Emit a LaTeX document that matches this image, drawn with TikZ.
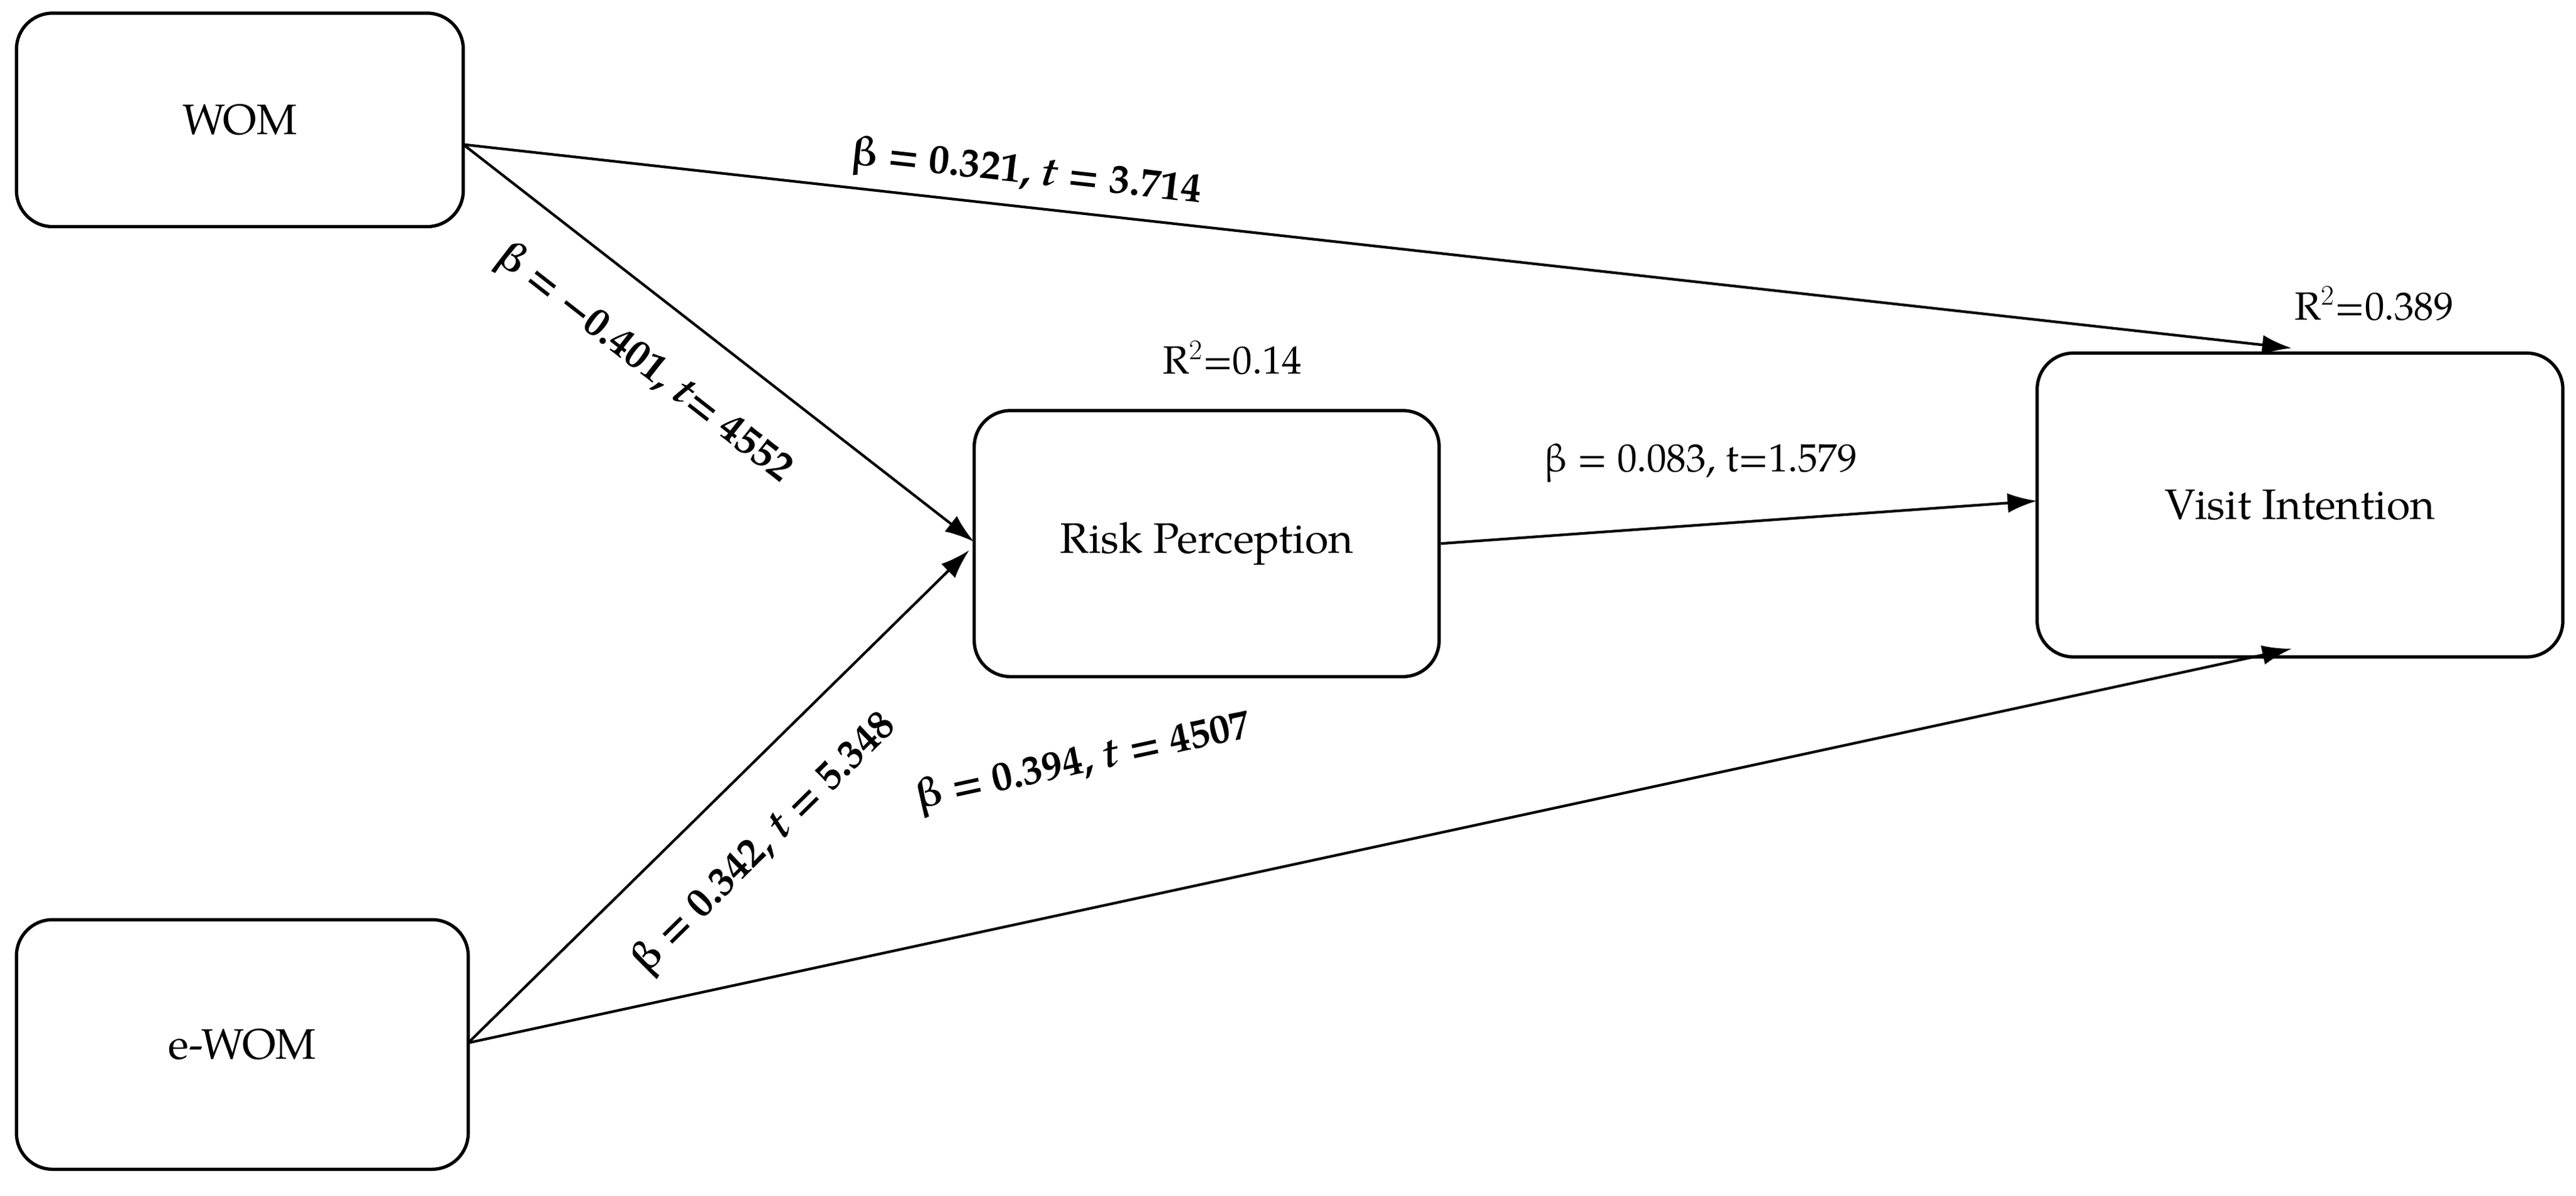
\documentclass[tikz,border=0pt]{standalone}
\usepackage{fontspec}
\setmainfont{TeX Gyre Pagella}
\usetikzlibrary{arrows.meta}
\begin{document}
\begin{tikzpicture}[x=1pt,y=-1pt,
 box/.style={draw,line width=2pt,rounded corners=22pt,font=\fontsize{26}{30}\selectfont},
 arr/.style={line width=1.6pt,-{Latex[length=18pt,width=12pt]}},
 lab/.style={font=\bfseries\fontsize{25}{28}\selectfont}]
\useasboundingbox (0,0) rectangle (1568,728);
\node[box,minimum width=272pt,minimum height=130pt] (wom) at (146,73) {WOM};
\node[box,minimum width=275pt,minimum height=152pt] (ewom) at (147.5,636) {e-WOM};
\node[box,minimum width=283pt,minimum height=162pt] (rp) at (734.5,331) {Risk Perception};
\node[box,minimum width=320pt,minimum height=185pt] (vi) at (1400,307.5) {Visit Intention};
\coordinate (w) at (282,88);
\coordinate (e) at (285,635);
\draw[arr] (w) -- (1395,212) coordinate (vi1);
\draw[arr] (w) -- (593,330) coordinate (rp1);
\draw[arr] (e) -- (590,335) coordinate (rp2);
\draw[arr] (e) -- (1395,395) coordinate (vi2);
\draw[arr] (rp.east) -- (1240,305) coordinate (vi3);
\node[lab,rotate=-6.4] (l1) at (625,106) {β = 0.321, \textit{t} = 3.714};
\node[lab,rotate=-38] (l2) at (392,222) {β = −0.401, \textit{t}= 4552};
\node[lab,rotate=44.5] (l3) at (466,514) {β = 0.342, \textit{t} = 5.348};
\node[lab,rotate=12.2] (l4) at (660,465) {β = 0.394, \textit{t} = 4507};
\node[font=\fontsize{24}{28}\selectfont] (l5) at (1035,282) {β = 0.083, t=1.579};
\node[font=\fontsize{24}{28}\selectfont] (r1) at (750,218) {R$^2$=0.14};
\node[font=\fontsize{24}{28}\selectfont] (r2) at (1445,185) {R$^2$=0.389};
\end{tikzpicture}
\end{document}
